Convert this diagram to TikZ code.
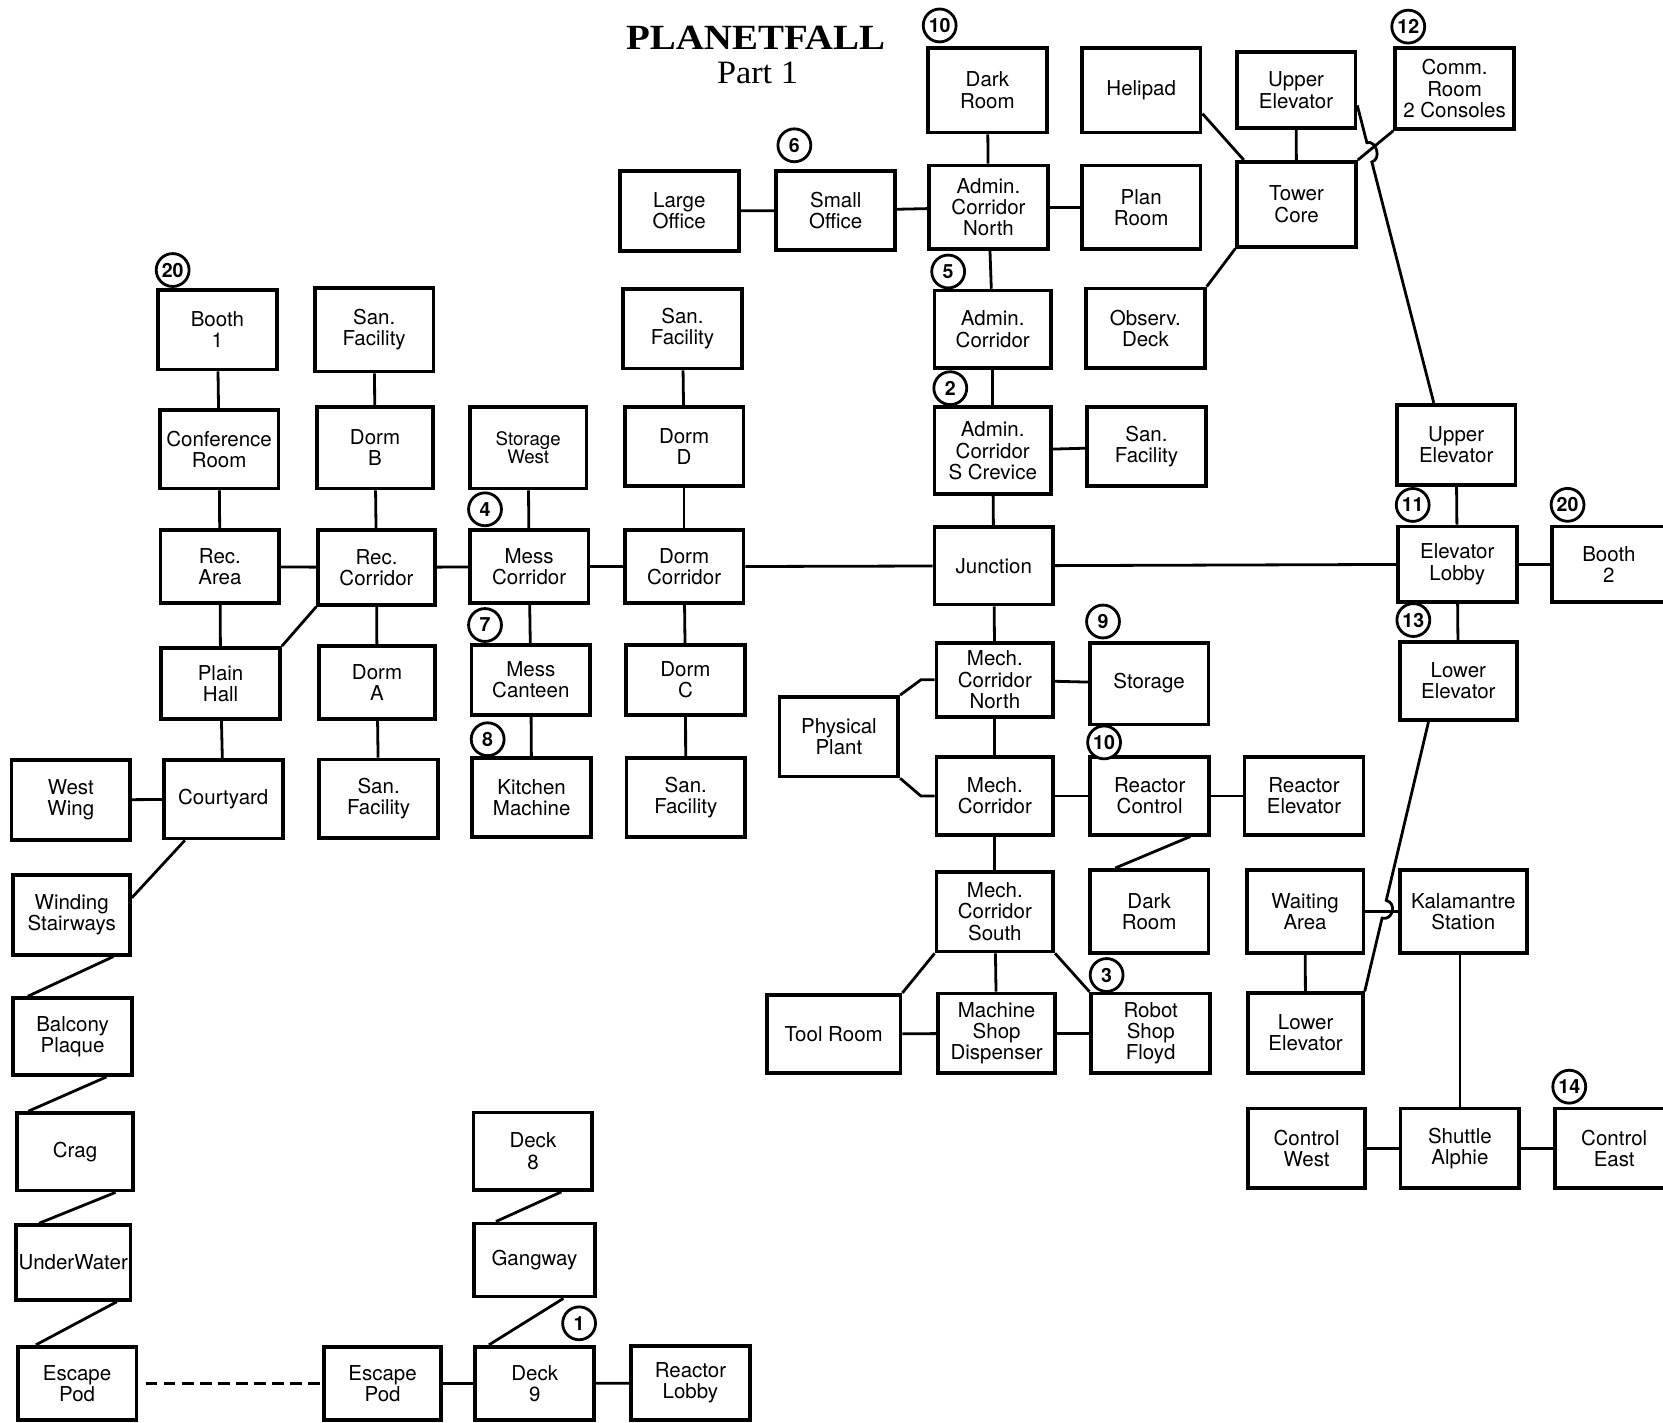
\documentclass[tikz,border=0pt]{standalone}
\usepackage{fontspec}
\usepackage{graphicx}
\newfontfamily\roomfont{TeX Gyre Heros}
\newfontfamily\titlefont{Liberation Serif}
\usetikzlibrary{calc}
\begin{document}
\begin{tikzpicture}[x=0.2mm,y=-0.2mm,
  room/.style={draw,line width=2pt,minimum width=22.4mm,minimum height=15mm,inner sep=0pt,align=center,font=\roomfont\fontsize{11}{11.4}\selectfont},
  num/.style={draw,circle,fill=white,line width=1.5pt,minimum size=6.2mm,inner sep=0pt,font=\roomfont\bfseries\fontsize{10.5}{10.5}\selectfont},
  link/.style={line width=1.5pt}]
\fill[white] (0,0) rectangle (1568,1341);
\useasboundingbox (0,0) rectangle (1568,1341);
% title
\node[font=\titlefont\bfseries\fontsize{19}{19}\selectfont,anchor=base] (title) at (712.4,47) {\scalebox{1.1}[1]{PLANETFALL}};
\node[font=\titlefont\fontsize{17.5}{17.5}\selectfont,anchor=base] (part) at (714.2,79) {\scalebox{1.05}[1]{Part 1}};
% admin and tower
\node[room,minimum height=16mm] (darkA) at (931,85) {Dark\\Room};
\node[room,minimum height=16mm] (heli) at (1076,85) {Helipad};
\node[room,minimum height=14.4mm] (upE) at (1222,85) {Upper\\Elevator};
\node[room,minimum height=15.2mm] (comm) at (1371.5,83.5) {Comm.\\Room\\2 Consoles};
\node[room] (large) at (640.5,199) {Large\\Office};
\node[room] (small) at (788,198.5) {Small\\Office};
\node[room,minimum height=15.8mm] (adminN) at (932,195.5) {Admin.\\Corridor\\North};
\node[room,minimum height=15.8mm] (plan) at (1076,195.5) {Plan\\Room};
\node[room,minimum height=16mm] (tower) at (1222.5,192.6) {Tower\\Core};
\node[room,minimum width=22mm,minimum height=14.6mm] (admin) at (936,310.5) {Admin.\\Corridor};
\node[room] (obs) at (1080,309.5) {Observ.\\Deck};
\node[room,minimum width=22mm,minimum height=16.4mm] (crev) at (936,425) {Admin.\\Corridor\\S Crevice};
\node[room,minimum height=14.8mm] (sanE) at (1081,421) {San.\\Facility};
\node[room,minimum height=15.2mm] (upE2) at (1373,419.6) {Upper\\Elevator};
% dorms
\node[room] (booth1) at (205,311) {Booth\\1};
\node[room,minimum height=15.7mm] (sanB) at (352.8,311) {San.\\Facility};
\node[room] (sanD) at (643.5,310) {San.\\Facility};
\node[room,minimum height=14.8mm] (conf) at (206.6,423.5) {Conference\\Room};
\node[room,minimum width=22mm,minimum height=15.4mm] (dormB) at (353.6,422) {Dorm\\B};
\node[room,minimum width=22mm,minimum height=15.4mm,font=\roomfont\fontsize{10}{10}\selectfont] (storW) at (498,422) {Storage\\West};
\node[room] (dormD) at (645,421) {Dorm\\D};
\node[room,minimum height=13.8mm] (recA) at (207.4,534.3) {Rec.\\Area};
\node[room,minimum width=22mm,minimum height=14.1mm] (recC) at (355,535) {Rec.\\Corridor};
\node[room,minimum height=13.8mm] (messC) at (498.9,534.3) {Mess\\Corridor};
\node[room,minimum height=13.8mm] (dormCor) at (645,534.3) {Dorm\\Corridor};
\node[room,minimum height=14.6mm] (junc) at (937,533.5) {Junction};
\node[room,minimum height=14.2mm] (lobby) at (1374,532) {Elevator\\Lobby};
\node[room,minimum width=21.6mm,minimum height=14.2mm] (booth2) at (1517,532) {Booth\\2};
\node[room,minimum height=13.4mm] (plain) at (208,644.5) {Plain\\Hall};
\node[room,minimum width=21.8mm,minimum height=13.8mm] (dormA) at (355.5,643.5) {Dorm\\A};
\node[room,minimum height=13.2mm] (canteen) at (500.5,641.2) {Mess\\Canteen};
\node[room,minimum height=13.2mm] (dormC) at (646.3,641.2) {Dorm\\C};
% mech
\node[room,minimum width=22mm,minimum height=14mm] (mcn) at (938,641) {Mech.\\Corridor\\North};
\node[room,minimum height=15.4mm] (stor) at (1083.5,644.5) {Storage};
\node[room,minimum width=22mm,minimum height=14.8mm] (lowE) at (1375,642) {Lower\\Elevator};
\node[room] (pp) at (791,694.6) {Physical\\Plant};
\node[room] (westW) at (66.8,754.3) {West\\Wing};
\node[room,minimum height=14.8mm] (court) at (210.5,753.5) {Courtyard};
\node[room,minimum height=14.8mm] (sanA) at (357,753) {San.\\Facility};
\node[room,minimum height=14.8mm] (kitchen) at (501.3,752) {Kitchen\\Machine};
\node[room,minimum height=14.8mm] (sanC) at (646.6,752) {San.\\Facility};
\node[room,minimum width=22mm,minimum height=14.6mm] (mc) at (938,750.5) {Mech.\\Corridor};
\node[room,minimum height=14.6mm] (rc) at (1084,750.5) {Reactor\\Control};
\node[room,minimum height=14.6mm] (re) at (1229.5,750.5) {Reactor\\Elevator};
\node[room,minimum width=22mm] (wind) at (67.6,862.7) {Winding\\Stairways};
\node[room,minimum width=22mm] (mcs) at (938,859.6) {Mech.\\Corridor\\South};
\node[room,minimum height=15.7mm] (dark2) at (1083.5,859.5) {Dark\\Room};
\node[room,minimum width=22mm,minimum height=15.7mm] (wait) at (1230.5,859.5) {Waiting\\Area};
\node[room,minimum width=23.9mm,minimum height=15.7mm] (kala) at (1379.7,859.5) {Kalamantre\\Station};
\node[room,minimum height=14.5mm] (balc) at (68.4,977.4) {Balcony\\Plaque};
\node[room,minimum width=25.2mm,minimum height=14.8mm] (tool) at (786,975) {Tool Room};
\node[room,minimum width=22mm] (mshop) at (939.7,974.3) {Machine\\Shop\\Dispenser};
\node[room] (robot) at (1085,974.3) {Robot\\Shop\\Floyd};
\node[room,minimum width=21.6mm] (lowE2) at (1231,974) {Lower\\Elevator};
% shuttle and crash site
\node[room,minimum width=22mm,minimum height=14.6mm] (crag) at (70.7,1086) {Crag};
\node[room,minimum height=14.6mm] (d8) at (502.5,1085.5) {Deck\\8};
\node[room,minimum width=22mm] (ctrlW) at (1232,1082.7) {Control\\West};
\node[room] (shut) at (1376.5,1082.7) {Shuttle\\Alphie};
\node[room] (ctrlE) at (1522,1082.7) {Control\\East};
\node[room,minimum width=21.6mm,minimum height=14.1mm] (under) at (69,1190.4) {UnderWater};
\node[room,minimum width=22.9mm,minimum height=13.8mm] (gang) at (503.9,1188) {Gangway};
\node[room,minimum height=13.8mm] (esc1) at (72.7,1304.3) {Escape\\Pod};
\node[room,minimum width=22mm,minimum height=13.8mm] (esc2) at (360.7,1304.3) {Escape\\Pod};
\node[room,minimum height=13.8mm] (d9) at (504.2,1304.3) {Deck\\9};
\node[room,minimum height=14mm] (rlobby) at (651,1304) {Reactor\\Lobby};
% straight links
\foreach \a/\b in {darkA/adminN, large/small, small/adminN, adminN/plan, upE/tower, adminN/admin, admin/crev, crev/sanE, crev/junc, junc/dormCor, junc/lobby, upE2/lobby, lobby/booth2, lobby/lowE, junc/mcn, mcn/stor, mcn/mc, mc/rc, rc/re, mc/mcs, mcs/mshop, tool/mshop, mshop/robot, wait/kala, wait/lowE2, ctrlW/shut, shut/ctrlE, booth1/conf, conf/recA, recA/recC, recA/plain, sanB/dormB, dormB/recC, recC/dormA, dormA/sanA, recC/messC, storW/messC, messC/dormCor, messC/canteen, canteen/kitchen, sanD/dormD, dormD/dormCor, dormCor/dormC, dormC/sanC, plain/court, westW/court, esc2/d9, d9/rlobby}
  \draw[link] (\a) -- (\b);
\draw[link] (shut) -- (shut |- kala.south);
% slanted links
\draw[link] (heli.-21) -- (tower.140);
\draw[link] (tower.north east) -- (comm.south west);
\draw[link] (tower.south west) -- (obs.north east);
\draw[link] (rc.-45) -- (dark2.128);
\draw[link] (mcs.south west) -- (tool.north east);
\draw[link] (mcs.south east) -- (robot.north west);
\draw[link] (recC.south west) -- (plain.north east);
\draw[link] (pp.north east) -- ([xshift=-2.6mm]mcn.west) -- (mcn.west);
\draw[link] (pp.south east) -- ([xshift=-2.6mm]mc.west) -- (mc.west);
\draw[link] (court.227) -- (wind.16);
\draw[link] (wind.-45) -- (balc.138);
\draw[link] (balc.-50) -- (crag.139);
\draw[link] (crag.-45) -- (under.131);
\draw[link] (under.-42) -- (esc1.137);
\draw[link] (d8.-55) -- (gang.135);
\draw[link] (gang.-53) -- (d9.140);
\draw[link,dash pattern=on 2.2mm off 1.2mm] ([xshift=1.4mm]esc1.east) -- (esc2.west);
% links that hop over others
\draw[link] (upE.-14) -- ($(upE.-14)!0.125!(upE2.118)$) .. controls +(9.2,-2.4) and +(9.2,-2.4) .. ($(upE.-14)!0.19!(upE2.118)$) -- (upE2.118);
\draw[link] (lowE.234) -- ($(lowE.234)!0.662!(lowE2.north east)$) .. controls +(10.2,2.6) and +(10.2,2.6) .. ($(lowE.234)!0.728!(lowE2.north east)$) -- (lowE2.north east);
% step numbers
\foreach \n/\x/\y/\t in {c10/886/24/10, c12/1327.8/25.1/12, c6/749/137/6, c20/162.8/254.6/20, c5/894/256/5, c2/896/366/2, c4/457.3/480.2/4, c11/1332/476.1/11, c20b/1478/476/20, c7/457.3/589.3/7, c13/1332.6/584.6/13, c9/1040/586/9, c8/459.8/697/8, c10b/1041/700/10, c3/1043.4/919.3/3, c14/1479.6/1024.6/14, c1/546/1247.7/1}
  \node[num] (\n) at (\x,\y) {\t};
\end{tikzpicture}
\end{document}
